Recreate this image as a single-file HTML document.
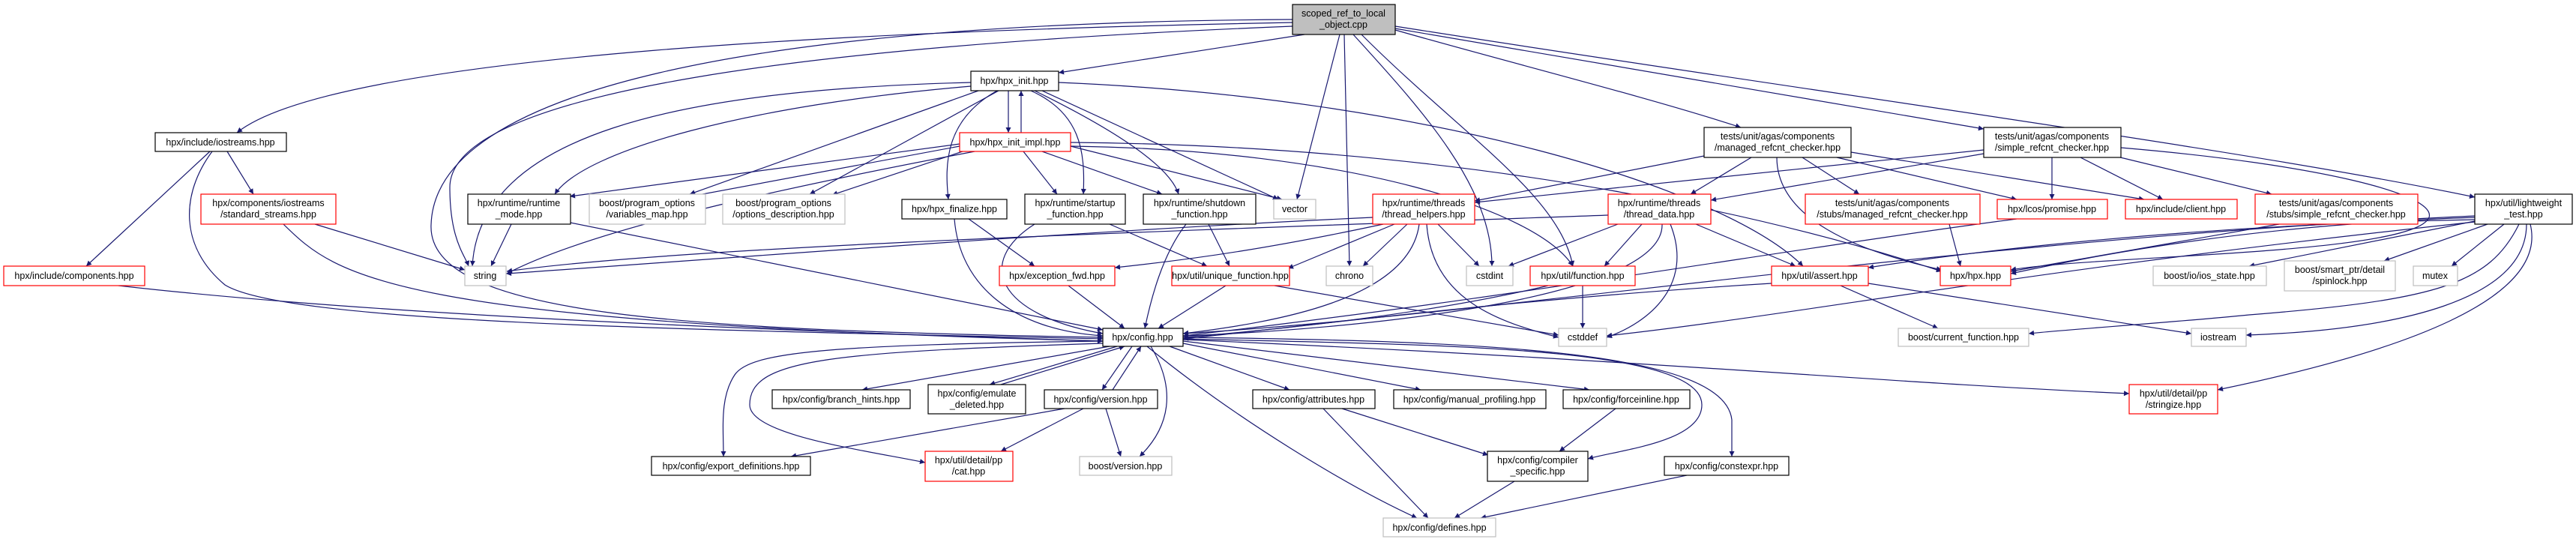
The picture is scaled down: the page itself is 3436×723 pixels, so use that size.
<!DOCTYPE html>
<html><head><meta charset="utf-8"><style>
html,body{margin:0;padding:0;background:#fff;}
svg{display:block;}
text{font-family:"Liberation Sans",sans-serif;font-size:12.5px;fill:#000;text-anchor:middle;}
.e{fill:none;stroke:#191970;stroke-width:1.2;marker-end:url(#a);}
.b{fill:#fff;stroke:#000;stroke-width:1.2;}
.r{fill:#fff;stroke:#ff0000;stroke-width:1.2;}
.g{fill:#fff;stroke:#bfbfbf;stroke-width:1.2;}
</style></head><body>
<svg width="3436" height="723" viewBox="0 0 3436 723" xmlns="http://www.w3.org/2000/svg">
<defs><marker id="a" viewBox="0 0 10 10" refX="10" refY="5" markerWidth="9" markerHeight="7" orient="auto" markerUnits="userSpaceOnUse"><path d="M0,0 L10,5 L0,10 z" fill="#191970"/></marker></defs>
<g>
<path class="e" d="M1724,30 C1200,40 450,70 316,177"/>
<path class="e" d="M1740,46 L1412,97"/>
<path class="e" d="M1787,46 L1730,266"/>
<path class="e" d="M1793,46 L1800,355"/>
<path class="e" d="M1805,46 C1900,150 1990,250 1990,355"/>
<path class="e" d="M1816,46 C1950,180 2080,260 2098,355"/>
<path class="e" d="M1861,40 C2000,80 2200,130 2322,170"/>
<path class="e" d="M1861,38 L2646,172"/>
<path class="e" d="M1861,35 C2400,120 3000,200 3301,263"/>
<path class="e" d="M1724,35 C1100,60 600,120 600,250 C600,320 620,340 625,355"/>
<path class="e" d="M1724,26 C1000,30 580,120 575,300 C570,420 900,440 1471,450"/>
<path class="e" d="M1345,121 L1345,177"/>
<path class="e" d="M1362,177 L1362,121"/>
<path class="e" d="M1295,110 C900,120 640,180 630,355"/>
<path class="e" d="M1295,115 C1000,140 780,200 740,259"/>
<path class="e" d="M1305,121 L920,259"/>
<path class="e" d="M1332,121 L1080,259"/>
<path class="e" d="M1330,121 C1260,160 1260,220 1265,266"/>
<path class="e" d="M1375,121 C1440,150 1448,200 1445,259"/>
<path class="e" d="M1380,121 C1480,170 1560,220 1572,259"/>
<path class="e" d="M1390,121 L1705,266"/>
<path class="e" d="M1412,110 C1900,130 2300,250 2405,355"/>
<path class="e" d="M1428,195 C1800,200 2050,280 2098,355"/>
<path class="e" d="M1280,195 L921,262"/>
<path class="e" d="M1290,200 L1110,260"/>
<path class="e" d="M1280,192 L760,262"/>
<path class="e" d="M1300,202 C1100,240 800,300 676,365"/>
<path class="e" d="M1365,202 L1410,259"/>
<path class="e" d="M1390,202 L1550,259"/>
<path class="e" d="M1428,195 L1710,266"/>
<path class="e" d="M1428,190 C2000,195 2400,300 2590,362"/>
<path class="e" d="M280,202 L115,355"/>
<path class="e" d="M303,202 L338,259"/>
<path class="e" d="M283,202 C240,260 240,330 300,380 C380,430 900,440 1471,452"/>
<path class="e" d="M420,299 L620,360"/>
<path class="e" d="M378,299 C450,370 520,430 1471,455"/>
<path class="e" d="M158,381 C500,420 1000,440 1471,455"/>
<path class="e" d="M682,299 L655,355"/>
<path class="e" d="M761,297 L1471,440"/>
<path class="e" d="M1292,292 L1380,355"/>
<path class="e" d="M1273,292 C1280,380 1350,440 1471,448"/>
<path class="e" d="M1380,299 C1300,350 1330,420 1471,445"/>
<path class="e" d="M1480,299 L1610,355"/>
<path class="e" d="M1612,299 L1640,355"/>
<path class="e" d="M1582,299 C1550,340 1535,400 1527,438"/>
<path class="e" d="M1425,381 L1500,438"/>
<path class="e" d="M1635,381 L1545,438"/>
<path class="e" d="M1700,381 L2079,447"/>
<path class="e" d="M1831,290 C1400,310 900,350 675,365"/>
<path class="e" d="M1845,299 C1700,330 1600,345 1487,357"/>
<path class="e" d="M1860,299 L1718,358"/>
<path class="e" d="M1877,299 L1818,355"/>
<path class="e" d="M1918,299 L1973,355"/>
<path class="e" d="M1903,299 C1910,400 2000,430 2079,450"/>
<path class="e" d="M1893,299 C1880,400 1700,430 1578,445"/>
<path class="e" d="M2158,299 L2012,355"/>
<path class="e" d="M2190,299 L2140,355"/>
<path class="e" d="M2262,299 L2395,355"/>
<path class="e" d="M2228,299 C2260,380 2200,430 2143,450"/>
<path class="e" d="M2217,299 C2220,400 1800,440 1578,448"/>
<path class="e" d="M2145,287 C1500,310 900,330 676,362"/>
<path class="e" d="M2111,381 L2111,438"/>
<path class="e" d="M2065,381 C1900,420 1700,440 1578,450"/>
<path class="e" d="M2363,378 C2000,400 1700,440 1578,452"/>
<path class="e" d="M2455,381 L2585,438"/>
<path class="e" d="M2492,378 L2923,445"/>
<path class="e" d="M2273,208 L1967,268"/>
<path class="e" d="M2336,210 L2255,259"/>
<path class="e" d="M2404,210 L2480,259"/>
<path class="e" d="M2370,210 C2370,300 2500,340 2590,360"/>
<path class="e" d="M2450,210 L2690,266"/>
<path class="e" d="M2469,203 L2860,266"/>
<path class="e" d="M2737,210 L2737,266"/>
<path class="e" d="M2775,210 L2885,266"/>
<path class="e" d="M2820,208 L3030,259"/>
<path class="e" d="M2646,200 L1967,270"/>
<path class="e" d="M2646,205 L2282,267"/>
<path class="e" d="M2829,197 C3100,220 3250,260 3240,290 C3220,340 2800,340 2682,360"/>
<path class="e" d="M2600,299 L2615,355"/>
<path class="e" d="M2690,292 C2400,330 2000,400 1578,448"/>
<path class="e" d="M3040,299 L2682,362"/>
<path class="e" d="M3301,290 C3000,300 2800,340 2682,365"/>
<path class="e" d="M3301,295 L3000,355"/>
<path class="e" d="M3318,299 L3180,348"/>
<path class="e" d="M3340,299 L3270,355"/>
<path class="e" d="M3360,299 C3320,380 3250,400 3000,420 C2900,430 2750,440 2706,445"/>
<path class="e" d="M3370,299 C3370,400 3200,440 2996,447"/>
<path class="e" d="M3375,299 C3400,400 3200,470 2958,520"/>
<path class="e" d="M3301,293 C2900,300 2600,340 2492,357"/>
<path class="e" d="M3301,288 C2600,320 2000,420 1578,445"/>
<path class="e" d="M3301,296 C2700,360 2400,420 2143,448"/>
<path class="e" d="M1480,462 L1150,520"/>
<path class="e" d="M1490,462 L1320,513"/>
<path class="e" d="M1335,513 L1500,462"/>
<path class="e" d="M1510,462 L1470,520"/>
<path class="e" d="M1484,520 L1522,462"/>
<path class="e" d="M1471,455 C1100,460 1000,470 980,500 C960,530 965,570 965,609"/>
<path class="e" d="M1471,458 C1100,470 1000,480 1000,540 C1000,580 1150,600 1234,617"/>
<path class="e" d="M1535,462 C1570,520 1560,570 1520,609"/>
<path class="e" d="M1560,462 L1720,520"/>
<path class="e" d="M1578,458 L1895,520"/>
<path class="e" d="M1578,455 L2120,520"/>
<path class="e" d="M1578,452 C1900,460 2270,460 2270,540 C2270,590 2160,600 2118,612"/>
<path class="e" d="M1578,450 C2000,455 2300,470 2310,560 L2310,609"/>
<path class="e" d="M1578,453 C2200,480 2500,510 2840,525"/>
<path class="e" d="M1530,462 C1650,560 1800,650 1890,691"/>
<path class="e" d="M1420,545 L1055,609"/>
<path class="e" d="M1445,545 L1335,602"/>
<path class="e" d="M1475,545 L1495,609"/>
<path class="e" d="M1790,545 L1985,607"/>
<path class="e" d="M1765,545 L1905,691"/>
<path class="e" d="M2155,545 L2080,602"/>
<path class="e" d="M2020,642 L1940,691"/>
<path class="e" d="M2250,634 L1975,691"/>
</g>
<g>
<rect x="1724" y="6" width="137" height="40" fill="#bfbfbf" stroke="#000" stroke-width="1.2"/><text x="1792" y="22">scoped_ref_to_local</text><text x="1792" y="37">_object.cpp</text>
<rect class="b" x="1295" y="95" width="117" height="26"/><text x="1353" y="112">hpx/hpx_init.hpp</text>
<rect class="b" x="207" y="177" width="175" height="25"/><text x="294" y="194">hpx/include/iostreams.hpp</text>
<rect class="r" x="1280" y="177" width="148" height="25"/><text x="1354" y="194">hpx/hpx_init_impl.hpp</text>
<rect class="b" x="2273" y="170" width="196" height="40"/><text x="2371" y="186">tests/unit/agas/components</text><text x="2371" y="201">/managed_refcnt_checker.hpp</text>
<rect class="b" x="2646" y="170" width="183" height="40"/><text x="2737" y="186">tests/unit/agas/components</text><text x="2737" y="201">/simple_refcnt_checker.hpp</text>
<rect class="r" x="268" y="259" width="180" height="40"/><text x="358" y="275">hpx/components/iostreams</text><text x="358" y="290">/standard_streams.hpp</text>
<rect class="b" x="624" y="259" width="137" height="40"/><text x="692" y="275">hpx/runtime/runtime</text><text x="692" y="290">_mode.hpp</text>
<rect class="g" x="786" y="259" width="155" height="40"/><text x="863" y="275">boost/program_options</text><text x="863" y="290">/variables_map.hpp</text>
<rect class="g" x="964" y="259" width="163" height="40"/><text x="1045" y="275">boost/program_options</text><text x="1045" y="290">/options_description.hpp</text>
<rect class="b" x="1203" y="266" width="140" height="26"/><text x="1273" y="283">hpx/hpx_finalize.hpp</text>
<rect class="b" x="1367" y="259" width="134" height="40"/><text x="1434" y="275">hpx/runtime/startup</text><text x="1434" y="290">_function.hpp</text>
<rect class="b" x="1525" y="259" width="150" height="40"/><text x="1600" y="275">hpx/runtime/shutdown</text><text x="1600" y="290">_function.hpp</text>
<rect class="g" x="1699" y="266" width="56" height="26"/><text x="1727" y="283">vector</text>
<rect class="r" x="1831" y="259" width="136" height="40"/><text x="1899" y="275">hpx/runtime/threads</text><text x="1899" y="290">/thread_helpers.hpp</text>
<rect class="r" x="2145" y="259" width="137" height="40"/><text x="2213" y="275">hpx/runtime/threads</text><text x="2213" y="290">/thread_data.hpp</text>
<rect class="r" x="2408" y="259" width="233" height="40"/><text x="2524" y="275">tests/unit/agas/components</text><text x="2524" y="290">/stubs/managed_refcnt_checker.hpp</text>
<rect class="r" x="2664" y="266" width="147" height="26"/><text x="2737" y="283">hpx/lcos/promise.hpp</text>
<rect class="r" x="2835" y="266" width="149" height="26"/><text x="2909" y="283">hpx/include/client.hpp</text>
<rect class="r" x="3008" y="259" width="217" height="40"/><text x="3116" y="275">tests/unit/agas/components</text><text x="3116" y="290">/stubs/simple_refcnt_checker.hpp</text>
<rect class="b" x="3301" y="259" width="130" height="40"/><text x="3366" y="275">hpx/util/lightweight</text><text x="3366" y="290">_test.hpp</text>
<rect class="r" x="5" y="355" width="188" height="26"/><text x="99" y="372">hpx/include/components.hpp</text>
<rect class="g" x="620" y="355" width="55" height="26"/><text x="647" y="372">string</text>
<rect class="r" x="1333" y="355" width="154" height="26"/><text x="1410" y="372">hpx/exception_fwd.hpp</text>
<rect class="r" x="1563" y="355" width="157" height="26"/><text x="1641" y="372">hpx/util/unique_function.hpp</text>
<rect class="g" x="1769" y="355" width="62" height="26"/><text x="1800" y="372">chrono</text>
<rect class="g" x="1956" y="355" width="62" height="26"/><text x="1987" y="372">cstdint</text>
<rect class="r" x="2041" y="355" width="140" height="26"/><text x="2111" y="372">hpx/util/function.hpp</text>
<rect class="r" x="2363" y="355" width="129" height="26"/><text x="2427" y="372">hpx/util/assert.hpp</text>
<rect class="r" x="2588" y="355" width="94" height="26"/><text x="2635" y="372">hpx/hpx.hpp</text>
<rect class="g" x="2872" y="355" width="151" height="26"/><text x="2947" y="372">boost/io/ios_state.hpp</text>
<rect class="g" x="3047" y="348" width="148" height="40"/><text x="3121" y="364">boost/smart_ptr/detail</text><text x="3121" y="379">/spinlock.hpp</text>
<rect class="g" x="3219" y="355" width="59" height="26"/><text x="3248" y="372">mutex</text>
<rect class="b" x="1471" y="438" width="107" height="24"/><text x="1524" y="454">hpx/config.hpp</text>
<rect class="g" x="2079" y="438" width="64" height="24"/><text x="2111" y="454">cstddef</text>
<rect class="g" x="2532" y="438" width="174" height="24"/><text x="2619" y="454">boost/current_function.hpp</text>
<rect class="g" x="2923" y="438" width="73" height="24"/><text x="2959" y="454">iostream</text>
<rect class="b" x="1030" y="520" width="184" height="25"/><text x="1122" y="537">hpx/config/branch_hints.hpp</text>
<rect class="b" x="1238" y="513" width="130" height="39"/><text x="1303" y="529">hpx/config/emulate</text><text x="1303" y="544">_deleted.hpp</text>
<rect class="b" x="1393" y="520" width="151" height="25"/><text x="1468" y="537">hpx/config/version.hpp</text>
<rect class="b" x="1671" y="520" width="163" height="25"/><text x="1752" y="537">hpx/config/attributes.hpp</text>
<rect class="b" x="1859" y="520" width="203" height="25"/><text x="1960" y="537">hpx/config/manual_profiling.hpp</text>
<rect class="b" x="2085" y="520" width="169" height="25"/><text x="2169" y="537">hpx/config/forceinline.hpp</text>
<rect class="r" x="2840" y="513" width="118" height="39"/><text x="2899" y="529">hpx/util/detail/pp</text><text x="2899" y="544">/stringize.hpp</text>
<rect class="b" x="869" y="609" width="212" height="25"/><text x="975" y="626">hpx/config/export_definitions.hpp</text>
<rect class="r" x="1234" y="602" width="117" height="40"/><text x="1292" y="618">hpx/util/detail/pp</text><text x="1292" y="633">/cat.hpp</text>
<rect class="g" x="1440" y="609" width="123" height="25"/><text x="1501" y="626">boost/version.hpp</text>
<rect class="b" x="1984" y="602" width="134" height="40"/><text x="2051" y="618">hpx/config/compiler</text><text x="2051" y="633">_specific.hpp</text>
<rect class="b" x="2220" y="609" width="166" height="25"/><text x="2303" y="626">hpx/config/constexpr.hpp</text>
<rect class="g" x="1845" y="691" width="150" height="25"/><text x="1920" y="708">hpx/config/defines.hpp</text>
</g>
</svg>
</body></html>
